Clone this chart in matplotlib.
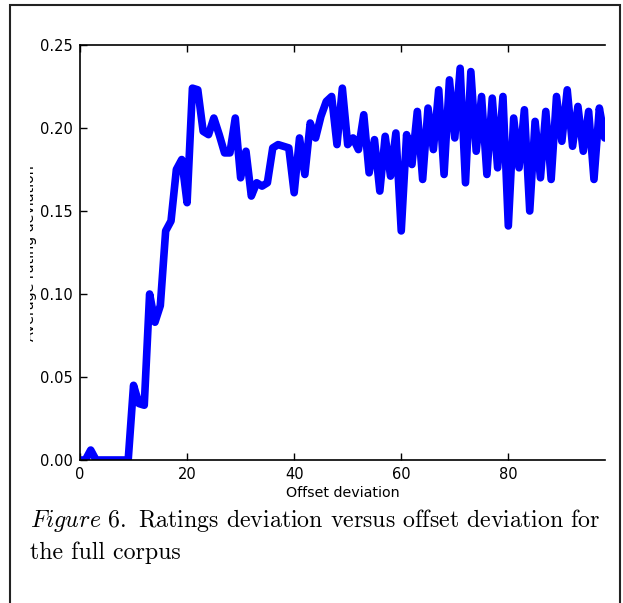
import matplotlib
matplotlib.use("Agg")
import matplotlib.pyplot as plt
from matplotlib.patches import Rectangle
from matplotlib.transforms import Bbox

# offset deviation vs average rating deviation
offsets = list(range(0, 100))
rating_dev = [
    0.000, 0.000, 0.006, 0.000, 0.000, 0.000, 0.000, 0.000, 0.000, 0.000,
    0.045, 0.034, 0.033, 0.100, 0.083, 0.093, 0.138, 0.144, 0.175, 0.181,
    0.155, 0.224, 0.223, 0.198, 0.196, 0.206, 0.196, 0.185, 0.185, 0.206,
    0.170, 0.186, 0.159, 0.167, 0.165, 0.167, 0.188, 0.190, 0.189, 0.188,
    0.161, 0.194, 0.172, 0.203, 0.194, 0.207, 0.216, 0.219, 0.190, 0.224,
    0.190, 0.194, 0.187, 0.208, 0.173, 0.193, 0.162, 0.195, 0.171, 0.197,
    0.138, 0.196, 0.178, 0.210, 0.169, 0.212, 0.187, 0.223, 0.172, 0.229,
    0.194, 0.236, 0.167, 0.234, 0.186, 0.219, 0.172, 0.218, 0.176, 0.219,
    0.141, 0.206, 0.176, 0.211, 0.150, 0.204, 0.170, 0.210, 0.169, 0.219,
    0.192, 0.223, 0.189, 0.213, 0.186, 0.210, 0.169, 0.212, 0.194, 0.208,
]
x_ticks = [0, 20, 40, 60, 80]
y_ticks = [0.00, 0.05, 0.10, 0.15, 0.20, 0.25]

W, H = 623, 603
plt.rcParams['mathtext.fontset'] = 'cm'

fig = plt.figure(figsize=(W / 100, H / 100), dpi=100)

# axes placed in pixel terms, right side cropped like the original
left, right, top, bottom = 80, 605, 45, 460
ax = fig.add_axes([left / W, (H - bottom) / H, (right - left) / W, (bottom - top) / H])
ax.plot(offsets, rating_dev, color='b', lw=5.5, solid_joinstyle='round')
ax.set_xlim(0, (right - left) / 5.354)
ax.set_ylim(0, 0.25)
ax.set_xticks(x_ticks)
ax.set_yticks(y_ticks)
ax.set_yticklabels([f"{v:.2f}" for v in y_ticks])
ax.tick_params(direction='in', top=True, right=False, length=5, width=1,
               labelsize=10.5, pad=5)
ax.spines['right'].set_visible(False)
for s in ['left', 'top', 'bottom']:
    ax.spines[s].set_linewidth(1.2)
ax.set_xlabel('Offset deviation', fontsize=10.3, labelpad=3)

# y label, partly cut off on the left as in the source image
ylab = fig.text(37 / W, 0.58, 'Average rating deviation', rotation=90,
                ha='right', va='center', fontsize=10.3)
ylab.set_clip_box(Bbox.from_extents(30, 0, W, H))
ylab.set_clip_on(True)

# caption
cap_font = ['cmr10', 'DejaVu Serif']
fig.text(30 / W, 1 - 527 / H,
         r"$\mathit{Figure\ 6.}$ Ratings deviation versus offset deviation for",
         fontsize=17.2, family=cap_font, va='baseline', ha='left')
fig.text(30 / W, 1 - 559 / H, "the full corpus",
         fontsize=17.2, family=cap_font, va='baseline', ha='left')

# frame around figure + caption
fig.patches.append(Rectangle((10 / W, -0.1), 610 / W, 1.1 - 5 / H,
                             transform=fig.transFigure, fill=False,
                             edgecolor='#222222', lw=1.5))

plt.savefig("out.png", dpi=100)
